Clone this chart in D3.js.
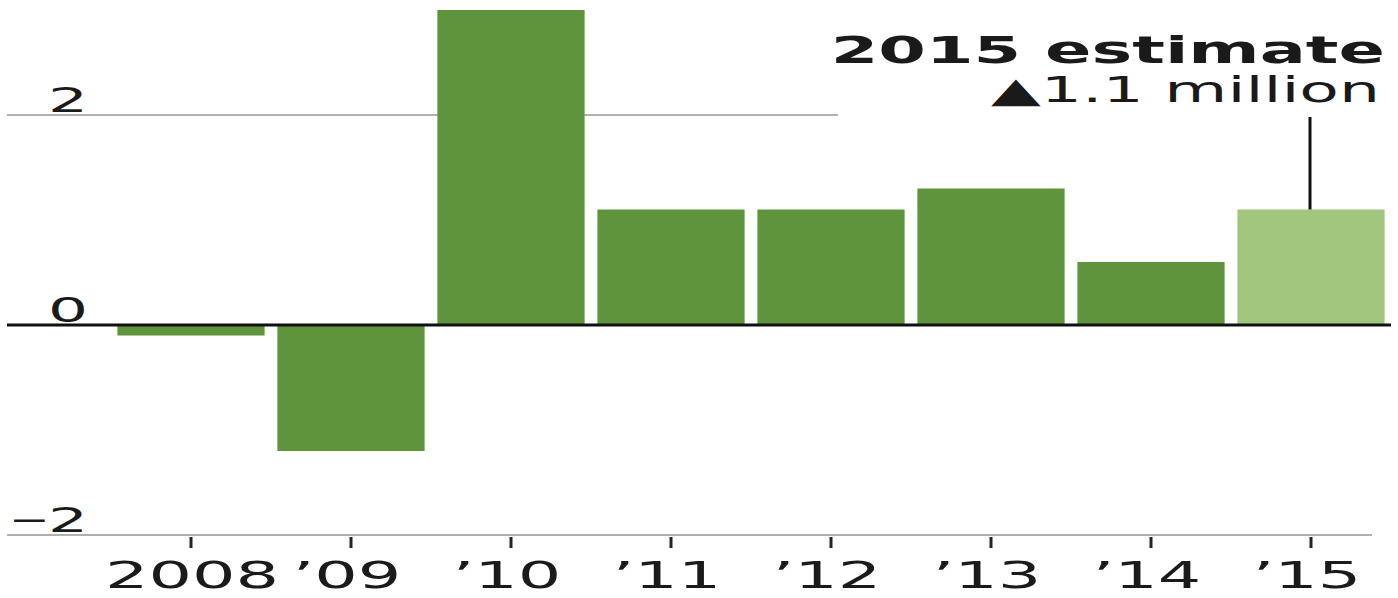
<!DOCTYPE html>
<html lang="en">
<head>
	<meta charset="UTF-8">
	<title>jobs change</title>
	<style>
		body { margin: 0; background: #fff; }
		text { font-family: "DejaVu Sans", sans-serif; fill: #1a1a1a; }
	</style>
</head>
<body>
	<svg id="cont" width="1398" height="598">
		<g id="grid"></g>
		<g id="bars"></g>
		<g id="xaxis"></g>
		<g id="yaxis"></g>
		<g id="note"></g>
	</svg>
</body>
<script src="https://cdn.jsdelivr.net/npm/d3@7"></script>
<script>
	// yearly change, millions
	let years = ["2008", "2009", "2010", "2011", "2012", "2013", "2014", "2015"];
	let yearLabels = ["2008", "\u201909", "\u201910", "\u201911", "\u201912", "\u201913", "\u201914", "\u201915"];
	let values = [-0.1, -1.2, 3.0, 1.1, 1.1, 1.3, 0.6, 1.1];
	let estimate = [false, false, false, false, false, false, false, true];
	let yTicks = [-2, 0, 2];

	let SX = 1.85; // the picture is stretched sideways, so is the type

	let svg = d3.select("#cont");

	let x = d3.scaleBand()
		.domain(years)
		.range([111, 1391])
		.paddingInner(0.08)
		.paddingOuter(0.04);

	let y = d3.scaleLinear()
		.domain([-2, 3])
		.range([535, 10]);

	function label(g, px, py, txt, size, anchor, weight)
	{
		return g.append("text")
			.attr("transform", "translate(" + px + "," + py + ") scale(" + SX + ",1)")
			.attr("text-anchor", anchor)
			.attr("font-size", size)
			.attr("font-weight", weight || "normal")
			.text(txt);
	}

	// gridline at 2 stops short of the note
	d3.select("#grid").append("line")
		.attr("x1", 7).attr("x2", 838)
		.attr("y1", y(2)).attr("y2", y(2))
		.attr("stroke", "#b0b0b0").attr("stroke-width", 2);

	// bottom axis line at -2
	d3.select("#grid").append("line")
		.attr("x1", 7).attr("x2", 1372)
		.attr("y1", y(-2)).attr("y2", y(-2))
		.attr("stroke", "#b0b0b0").attr("stroke-width", 2);

	d3.select("#bars").selectAll("rect")
		.data(years)
		.join("rect")
		.attr("x", d => x(d))
		.attr("width", x.bandwidth())
		.attr("y", (d, i) => y(Math.max(0, values[i])))
		.attr("height", (d, i) => Math.abs(y(values[i]) - y(0)))
		.attr("fill", (d, i) => estimate[i] ? "#a3c67f" : "#5f943c");

	// zero line
	d3.select("#bars").append("line")
		.attr("x1", 7).attr("x2", 1391)
		.attr("y1", y(0)).attr("y2", y(0))
		.attr("stroke", "#111").attr("stroke-width", 3);

	// x ticks and labels
	let xa = d3.select("#xaxis");
	years.forEach((d, i) => {
		let cx = x(d) + x.bandwidth() / 2;
		xa.append("line")
			.attr("x1", cx).attr("x2", cx)
			.attr("y1", y(-2) + 2).attr("y2", y(-2) + 13)
			.attr("stroke", "#222").attr("stroke-width", 3);
		label(xa, i == 0 ? cx + 1 : cx - 4, 588, yearLabels[i], 37, "middle");
	});

	// y labels
	let ya = d3.select("#yaxis");
	yTicks.forEach(t => {
		let tx = label(ya, 88, y(t) - 3, "", 34, "end");
		if (t < 0) {
			tx.append("tspan").attr("font-family", "Liberation Sans").text("\u2212");
		}
		tx.append("tspan").text(Math.abs(t));
	});

	// 2015 note
	let note = d3.select("#note");
	let last = years[years.length - 1];
	let lx = x(last) + x.bandwidth() / 2 - 1;
	note.append("line")
		.attr("x1", lx).attr("x2", lx)
		.attr("y1", 117).attr("y2", y(values[values.length - 1]))
		.attr("stroke", "#111").attr("stroke-width", 3);
	label(note, 1385, 63, "2015 estimate", 37, "end", "bold");
	label(note, 1380, 102, "\u25B21.1 million", 35, "end");
</script>
</html>
